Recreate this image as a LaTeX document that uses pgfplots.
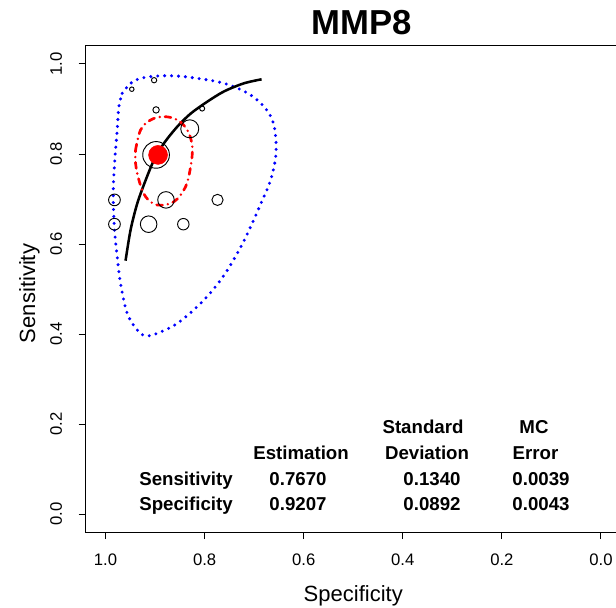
\documentclass[border=0pt]{standalone}
\usepackage{pgfplots}
\pgfplotsset{compat=1.18}
\usepackage{fontspec}
\setmainfont{Liberation Sans}
\begin{document}
\begin{tikzpicture}
\begin{axis}[
  scale only axis, width=401.3pt, height=364.5pt,
  xmin=-0.04, xmax=1.04, ymin=-0.04, ymax=1.04,
  x dir=reverse,
  xtick={0,0.2,0.4,0.6,0.8,1}, ytick={0,0.2,0.4,0.6,0.8,1},
  xticklabels={}, yticklabels={},
  tick align=outside, major tick length=5.25pt,
  tick style={black, line width=0.75pt},
  axis line style={line width=0.75pt},
  xtick pos=bottom, ytick pos=left,
  clip=false,
]
\coordinate (O) at (axis cs:1.04,-0.04);
% prediction region
\addplot[blue, line width=2.5pt, line cap=round, dash pattern=on 0pt off 5.2pt, smooth, tension=0.6] coordinates {
(0.9663,0.9348)(0.9495,0.9570)(0.9293,0.9681)(0.8956,0.9733)(0.8552,0.9733)(0.8148,0.9681)
(0.7744,0.9607)(0.7408,0.9496)(0.7071,0.9311)(0.6802,0.9052)(0.6633,0.8756)(0.6566,0.8385)
(0.6566,0.7941)(0.6667,0.7422)(0.6834,0.6978)(0.7071,0.6385)(0.7340,0.5793)(0.7677,0.5200)
(0.8081,0.4682)(0.8552,0.4237)(0.8956,0.4015)(0.9192,0.3956)(0.9360,0.4089)(0.9562,0.4460)
(0.9697,0.5126)(0.9764,0.5718)(0.9818,0.6311)(0.9845,0.7052)(0.9818,0.7793)(0.9764,0.8533)
(0.9731,0.9052)(0.9663,0.9348)};
% study circles
\addplot[scatter, only marks, mark=o, line width=0.7pt,
  scatter/use mapped color={draw=black, fill=none},
  visualization depends on={\thisrow{r} \as \rr},
  scatter/@pre marker code/.append style={/tikz/mark size=\rr pt}]
  table {
x y r
0.947 0.944 1.7
0.902 0.964 2.0
0.898 0.898 2.4
0.805 0.901 1.9
0.830 0.856 6.75
0.898 0.798 10.0
0.982 0.698 4.4
0.878 0.698 6.2
0.774 0.698 4.2
0.982 0.644 4.4
0.913 0.644 6.2
0.843 0.644 4.3
};
% SROC curve
\addplot[black, line width=1.9pt, smooth] coordinates {
(0.9596,0.5629)(0.9495,0.6311)(0.936,0.690)(0.919,0.742)(0.902,0.787)(0.882,0.824)
(0.855,0.861)(0.828,0.890)(0.795,0.916)(0.761,0.939)(0.721,0.957)(0.685,0.966)};
% confidence region
\addplot[red, line width=2pt, line cap=round, dash pattern=on 4.5pt off 4pt on 0pt off 4pt, smooth, tension=0.6] coordinates {
(0.9394,0.8089)(0.9293,0.8533)(0.9091,0.8756)(0.8822,0.8830)(0.8552,0.8756)(0.8350,0.8533)
(0.8249,0.8163)(0.8283,0.7719)(0.8384,0.7274)(0.8620,0.6940)(0.8956,0.6867)(0.9192,0.7052)
(0.9327,0.7422)(0.9394,0.7793)(0.9394,0.8089)};
% summary point
\addplot[only marks, mark=*, red, mark size=7.1pt] coordinates {(0.894,0.798)};
% tick labels
\node[anchor=base, font=\fontsize{12.5}{14}\selectfont] at ([yshift=-24.75pt]axis cs:1,-0.04) {1.0};
\node[anchor=base, font=\fontsize{12.5}{14}\selectfont] at ([yshift=-24.75pt]axis cs:0.8,-0.04) {0.8};
\node[anchor=base, font=\fontsize{12.5}{14}\selectfont] at ([yshift=-24.75pt]axis cs:0.6,-0.04) {0.6};
\node[anchor=base, font=\fontsize{12.5}{14}\selectfont] at ([yshift=-24.75pt]axis cs:0.4,-0.04) {0.4};
\node[anchor=base, font=\fontsize{12.5}{14}\selectfont] at ([yshift=-24.75pt]axis cs:0.2,-0.04) {0.2};
\node[anchor=base, font=\fontsize{12.5}{14}\selectfont] at ([yshift=-24.75pt]axis cs:0,-0.04) {0.0};
\node[anchor=base, rotate=90, font=\fontsize{12.5}{14}\selectfont] at ([xshift=-17.8pt]axis cs:1.04,0) {0.0};
\node[anchor=base, rotate=90, font=\fontsize{12.5}{14}\selectfont] at ([xshift=-17.8pt]axis cs:1.04,0.2) {0.2};
\node[anchor=base, rotate=90, font=\fontsize{12.5}{14}\selectfont] at ([xshift=-17.8pt]axis cs:1.04,0.4) {0.4};
\node[anchor=base, rotate=90, font=\fontsize{12.5}{14}\selectfont] at ([xshift=-17.8pt]axis cs:1.04,0.6) {0.6};
\node[anchor=base, rotate=90, font=\fontsize{12.5}{14}\selectfont] at ([xshift=-17.8pt]axis cs:1.04,0.8) {0.8};
\node[anchor=base, rotate=90, font=\fontsize{12.5}{14}\selectfont] at ([xshift=-17.8pt]axis cs:1.04,1) {1.0};
% axis labels and title
\node[anchor=base, font=\fontsize{16.5}{18}\selectfont] at ([yshift=-51.75pt]axis cs:0.5,-0.04) {Specificity};
\node[anchor=base, rotate=90, font=\fontsize{16.5}{18}\selectfont] at ([xshift=-38pt]axis cs:1.04,0.49) {Sensitivity};
\node[anchor=base, font=\fontsize{26}{28}\selectfont\bfseries] at ([yshift=8.25pt]axis cs:0.4823,1.04) {MMP8};
% table
\begin{scope}[every node/.style={anchor=base, font=\fontsize{14}{16}\selectfont\bfseries}]
\node at (axis cs:0.3592,0.1793) {Standard};
\node at (axis cs:0.1352,0.1793) {MC};
\node at (axis cs:0.6054,0.1216) {Estimation};
\node at (axis cs:0.3511,0.1216) {Deviation};
\node at (axis cs:0.1322,0.1216) {Error};
\node at (axis cs:0.8375,0.0644) {Sensitivity};
\node at (axis cs:0.6115,0.0644) {0.7670};
\node at (axis cs:0.341,0.0644) {0.1340};
\node at (axis cs:0.121,0.0644) {0.0039};
\node at (axis cs:0.8375,0.0089) {Specificity};
\node at (axis cs:0.6115,0.0089) {0.9207};
\node at (axis cs:0.341,0.0089) {0.0892};
\node at (axis cs:0.121,0.0089) {0.0043};
\end{scope}
\end{axis}
\pgfresetboundingbox
\path[use as bounding box] ([shift={(-64.3pt,399pt)}]O) rectangle ++(462pt,-455.25pt);
\end{tikzpicture}
\end{document}
